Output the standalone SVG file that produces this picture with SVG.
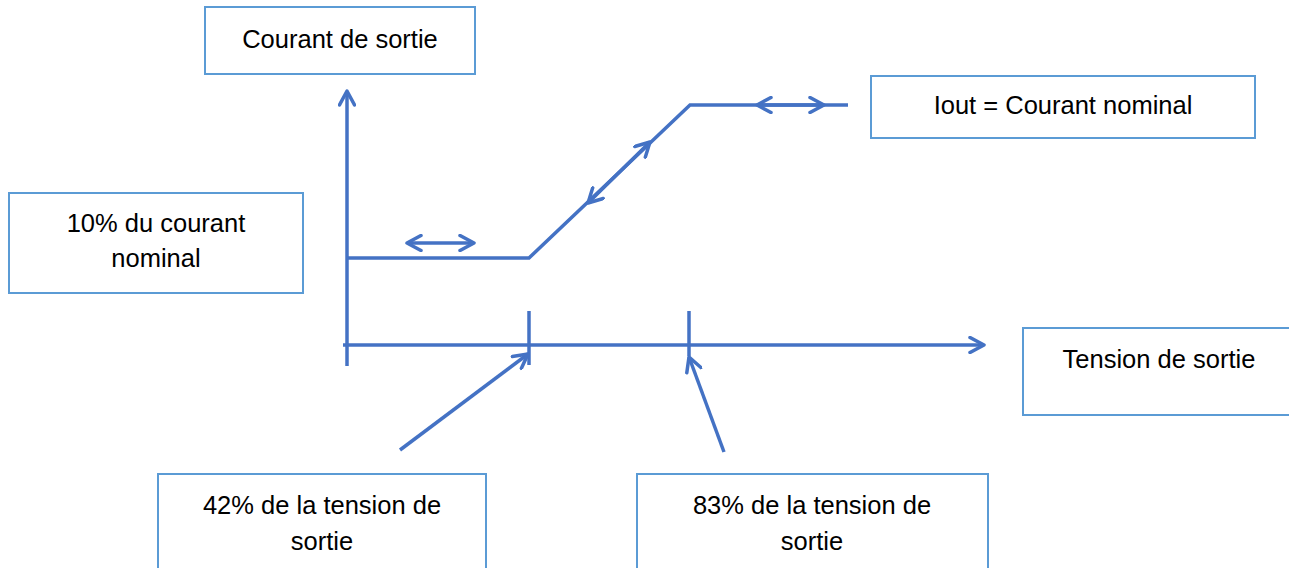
<svg xmlns="http://www.w3.org/2000/svg" width="1289" height="568" viewBox="0 0 1289 568">
<defs>
<style>
.box{fill:#fff;stroke:#5B9BD5;stroke-width:2}
.t{font-family:"Liberation Sans",Arial,sans-serif;font-size:25.5px;fill:#000;text-anchor:middle}
.ln{fill:none;stroke:#4472C4;stroke-width:3.5;stroke-linecap:butt;stroke-linejoin:miter}
</style>
<marker id="ahl" viewBox="0 0 18 18" refX="16" refY="9" markerWidth="18" markerHeight="18" markerUnits="userSpaceOnUse" orient="auto-start-reverse">
<path d="M2,1.5 L16,9 L2,16.5" fill="none" stroke="#4472C4" stroke-width="3.5" stroke-linecap="round" stroke-linejoin="round"/>
</marker>
</defs>
<g id="connectors">
<line class="ln" x1="347" y1="366" x2="347" y2="91" marker-end="url(#ahl)"/>
<line class="ln" x1="343" y1="345" x2="984" y2="345" marker-end="url(#ahl)"/>
<line class="ln" x1="529" y1="311" x2="529" y2="365"/>
<line class="ln" x1="689" y1="311" x2="689" y2="356"/>
<polyline class="ln" points="347,258 529,258 690,105 848,105"/>
<line class="ln" x1="407" y1="243" x2="474" y2="243" marker-start="url(#ahl)" marker-end="url(#ahl)"/>
<line class="ln" x1="757" y1="105" x2="824" y2="105" marker-start="url(#ahl)" marker-end="url(#ahl)"/>
<line class="ln" x1="588" y1="203" x2="650" y2="142" marker-start="url(#ahl)" marker-end="url(#ahl)"/>
<line class="ln" x1="400" y1="450" x2="528" y2="354" marker-end="url(#ahl)"/>
<line class="ln" x1="724" y1="452" x2="689" y2="357" marker-end="url(#ahl)"/>
</g>
<g id="courant-sortie">
<rect class="box" x="205" y="7" width="270" height="67"/>
<text class="t" x="340" y="48">Courant de sortie</text>
</g>
<g id="iout">
<rect class="box" x="871" y="76" width="384" height="62"/>
<text class="t" x="1063" y="114">Iout = Courant nominal</text>
</g>
<g id="dix-pourcent">
<rect class="box" x="9" y="193" width="294" height="100"/>
<text class="t" x="156" y="232">10% du courant</text>
<text class="t" x="156" y="267">nominal</text>
</g>
<g id="tension-sortie">
<rect class="box" x="1023" y="328" width="270" height="87"/>
<text class="t" x="1159" y="368">Tension de sortie</text>
</g>
<g id="quarante-deux">
<rect class="box" x="158" y="474" width="328" height="100"/>
<text class="t" x="322" y="514">42% de la tension de</text>
<text class="t" x="322" y="550">sortie</text>
</g>
<g id="quatre-vingt-trois">
<rect class="box" x="637" y="474" width="351" height="100"/>
<text class="t" x="812" y="514">83% de la tension de</text>
<text class="t" x="812" y="550">sortie</text>
</g>
</svg>
